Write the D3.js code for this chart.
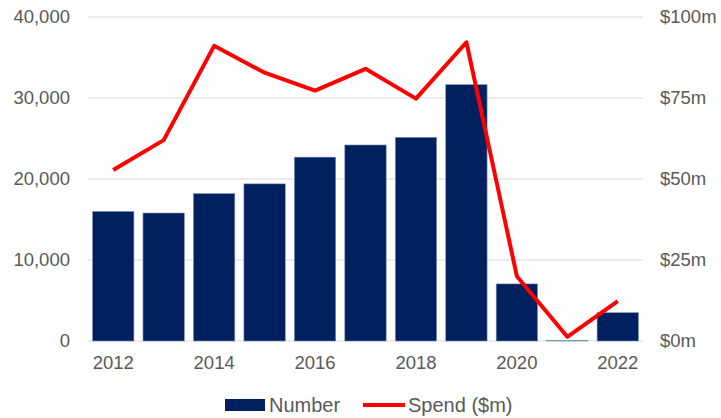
<!DOCTYPE html>
<html>
<head>
<meta charset="utf-8">
<script src="https://cdn.jsdelivr.net/npm/d3@7"></script>
<style>
  body { margin: 0; background: #fff; }
  text { font-family: "Liberation Sans", Arial, sans-serif; }
</style>
</head>
<body>
<svg width="721" height="418"></svg>
<script>
let years = ["2012","2013","2014","2015","2016","2017","2018","2019","2020","2021","2022"]
let number = [16000, 15800, 18200, 19400, 22700, 24200, 25150, 31650, 7050, 60, 3500]
let spend = [52.8, 62, 91.1, 82.8, 77.3, 84, 74.8, 92.2, 20, 1.3, 12.3]
let leftTicks = [0, 10000, 20000, 30000, 40000]
let rightTicks = [0, 25, 50, 75, 100]
let xLabels = ["2012","2014","2016","2018","2020","2022"]

let svg = d3.select("svg")
let margin = {top: 17, right: 78, bottom: 77, left: 88}
let width = svg.attr("width") - margin.left - margin.right
let height = svg.attr("height") - margin.top - margin.bottom

let x = d3.scaleBand().domain(years).range([0, width]).paddingInner(0.18).paddingOuter(0.09)
let y = d3.scaleLinear().domain([0, 40000]).range([height, 0])
let y2 = d3.scaleLinear().domain([0, 100]).range([height, 0])

let g = svg.append("g")
    .attr("transform", "translate(" + margin.left + "," + margin.top + ")")

// gridlines
g.append("g")
  .selectAll("line")
  .data(leftTicks)
  .enter().append("line")
    .attr("x1", 0)
    .attr("x2", width)
    .attr("y1", d=>y(d))
    .attr("y2", d=>y(d))
    .attr("stroke", "#d9d9d9")
    .attr("stroke-width", 1)

let fmt = d3.format(",")

g.append("g")
    .call(d3.axisLeft(y).tickValues(leftTicks).tickFormat(fmt).tickSize(0).tickPadding(18))
    .call(a=>a.select(".domain").remove())
    .selectAll("text")
      .attr("fill", "#595959")
      .style("font-size", "18.5px")

g.append("g")
    .attr("transform", "translate(" + width + ",0)")
    .call(d3.axisRight(y2).tickValues(rightTicks).tickFormat(d=>"$" + d + "m").tickSize(0).tickPadding(17))
    .call(a=>a.select(".domain").remove())
    .selectAll("text")
      .attr("fill", "#595959")
      .style("font-size", "18.5px")

g.append("g")
    .attr("transform", "translate(0," + height + ")")
    .call(d3.axisBottom(x).tickValues(xLabels).tickSize(0).tickPadding(15))
    .call(a=>a.select(".domain").remove())
    .selectAll("text")
      .attr("fill", "#595959")
      .style("font-size", "18.5px")

g.selectAll(".bar")
  .data(years)
  .enter().append("rect")
    .attr("class", "bar")
    .attr("x", d=>x(d))
    .attr("y", (d, i)=>y(number[i]))
    .attr("width", x.bandwidth())
    .attr("height", (d, i)=>height - y(number[i]))
    .attr("fill", "#002060")
    .attr("stroke", "#8497b0")
    .attr("stroke-width", 0.6)

let line = d3.line()
  .x((d, i)=>x(years[i]) + x.bandwidth() / 2)
  .y(d=>y2(d))

g.append("path")
    .datum(spend)
    .attr("d", line)
    .attr("fill", "none")
    .attr("stroke", "#ff0000")
    .attr("stroke-width", 4)
    .attr("stroke-linejoin", "round")

// legend
let legend = svg.append("g").attr("transform", "translate(0,405)")
legend.append("rect")
    .attr("x", 225).attr("y", -6).attr("width", 40).attr("height", 12)
    .attr("fill", "#002060")
legend.append("text")
    .attr("x", 269).attr("y", 7)
    .attr("fill", "#595959").style("font-size", "20px")
    .text("Number")
legend.append("line")
    .attr("x1", 363).attr("x2", 405).attr("y1", 0).attr("y2", 0)
    .attr("stroke", "#ff0000").attr("stroke-width", 4)
legend.append("text")
    .attr("x", 408).attr("y", 7)
    .attr("fill", "#595959").style("font-size", "20px")
    .text("Spend ($m)")
</script>
</body>
</html>
